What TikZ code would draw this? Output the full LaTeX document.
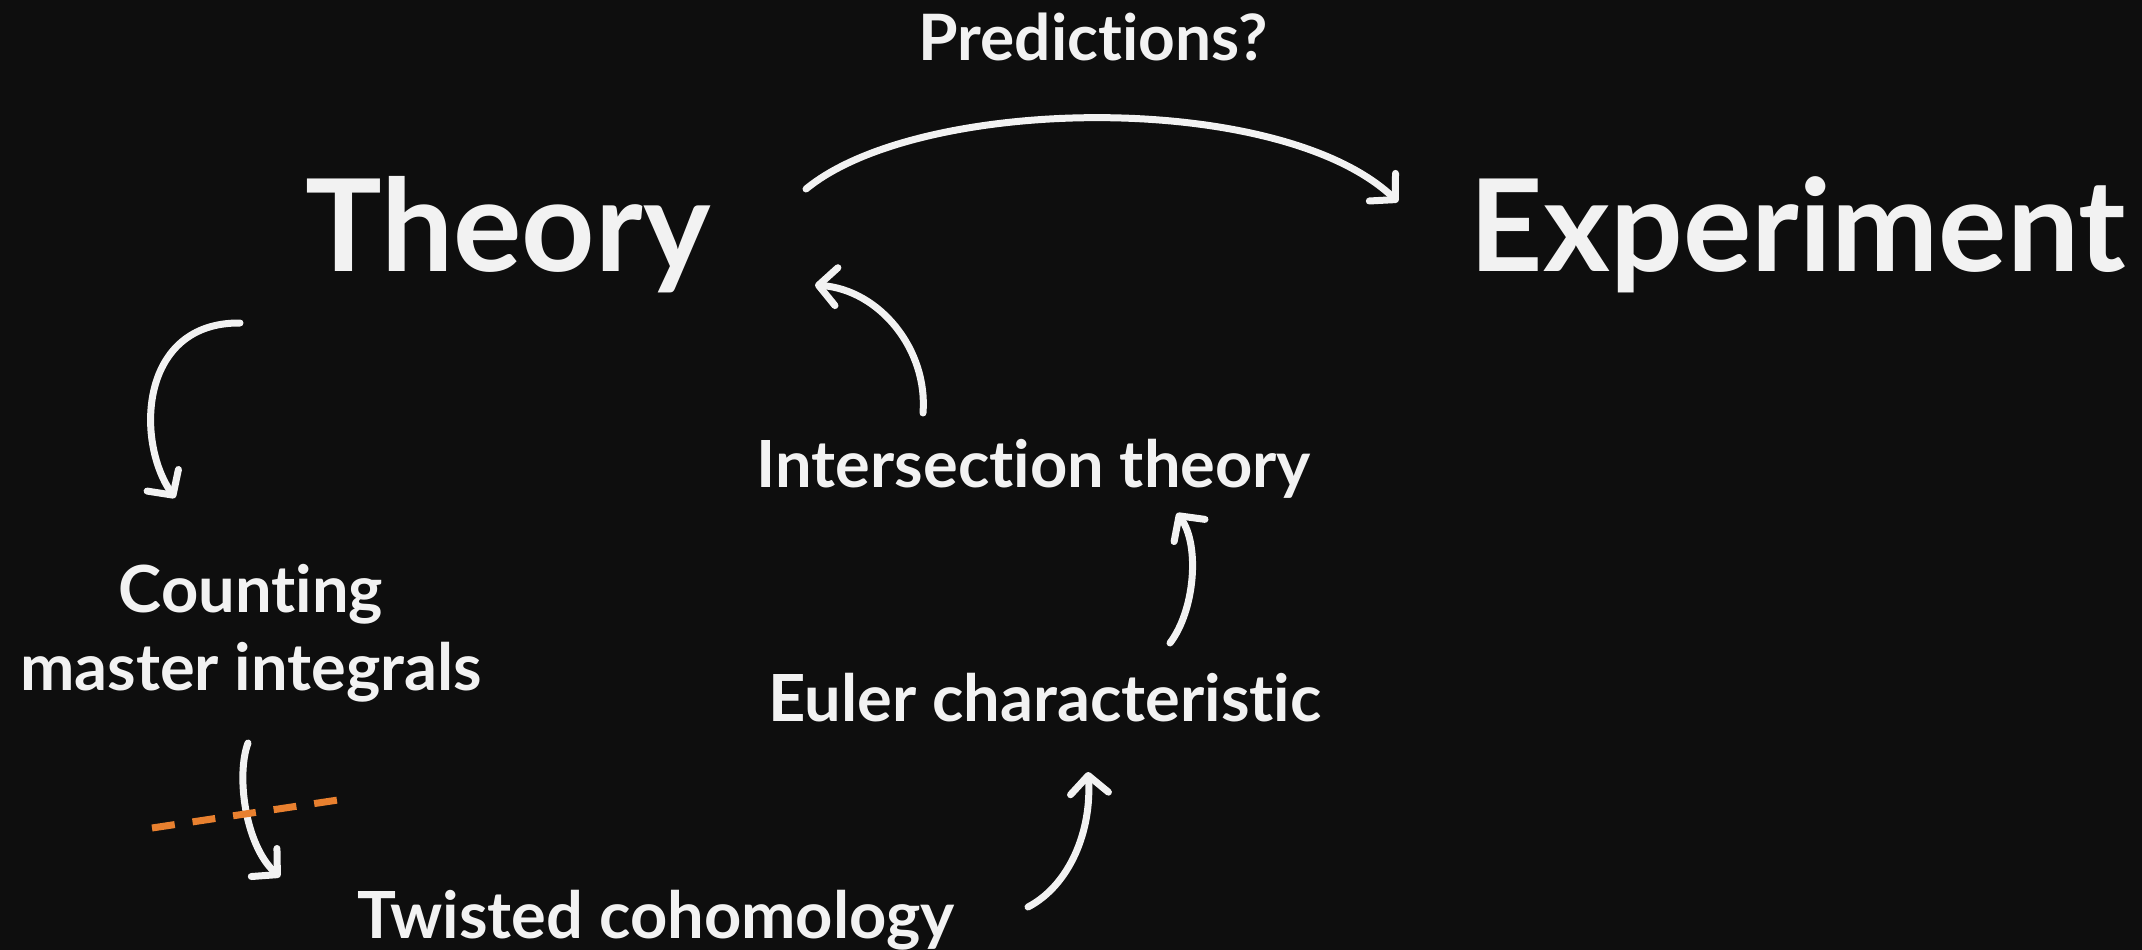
\documentclass[tikz,border=0pt]{standalone}
\usepackage{fontspec}
\setmainfont{Lato}[Ligatures=NoCommon]
\usetikzlibrary{arrows.meta}
\definecolor{bg}{HTML}{0E0E0E}
\definecolor{ink}{HTML}{F2F2F2}
\definecolor{cut}{HTML}{E8802F}
\tikzset{
  big/.style={text=ink, font=\fontsize{128}{130}\selectfont\bfseries, inner sep=0pt},
  label/.style={text=ink, font=\fontsize{65}{78}\selectfont\bfseries, inner sep=0pt, align=center},
  small/.style={text=ink, font=\fontsize{64}{70}\selectfont\bfseries, inner sep=0pt},
  flow/.style={draw=ink, line width=7pt, line cap=round,
    -{Straight Barb[length=18pt,width=38pt,line width=7pt,line cap=round,line join=round]}},
  cutline/.style={draw=cut, line width=7pt, dash pattern=on 23pt off 18pt}
}
\begin{document}
\begin{tikzpicture}[x=1pt,y=-1pt]
  \fill[bg] (0,0) rectangle (2142,950);
  \useasboundingbox (0,0) rectangle (2142,950);

  % labels
  \node[small] (pred) at (1093,37) {Predictions?};
  \node[big] (theory) at (508,235) {Theory};
  \node[big] (exp) at (1798,235) {Experiment};
  \node[label] (inter) at (1034,469) {Intersection theory};
  \node[label] (euler) at (1045,698) {Euler characteristic};
  \node[label] (count) at (251,633) {Counting\\master integrals};
  \node[label] (twist) at (656,920) {Twisted cohomology};

  % end points of the connectors
  \coordinate (p1) at (806,189);   \coordinate (p2) at (1398,202);
  \coordinate (a1) at (240,323);   \coordinate (a2) at (175,498);
  \coordinate (b1) at (248,743);   \coordinate (b2) at (280,877);
  \coordinate (c1) at (1028,907);  \coordinate (c2) at (1088,772);
  \coordinate (d1) at (1170,643);  \coordinate (d2) at (1177,513);
  \coordinate (e1) at (923,413);   \coordinate (e2) at (815,285);
  \coordinate (k1) at (152,828);   \coordinate (k2) at (338,800);

  % theory -> experiment
  \draw[flow] (p1) .. controls (920,95) and (1280,90) .. (p2);
  % theory -> counting master integrals
  \draw[flow] (a1) .. controls (140,322) and (135,440) .. (a2);
  % counting -> twisted cohomology
  \draw[flow] (b1) .. controls (236,775) and (245,845) .. (b2);
  % twisted cohomology -> euler characteristic
  \draw[flow] (c1) .. controls (1070,885) and (1092,830) .. (c2);
  % euler characteristic -> intersection theory
  \draw[flow] (d1) .. controls (1195,610) and (1200,545) .. (d2);
  % intersection theory -> theory
  \draw[flow] (e1) .. controls (928,350) and (880,290) .. (e2);
  % cut across the counting arrow
  \draw[cutline] (k1) -- (k2);
\end{tikzpicture}
\end{document}
